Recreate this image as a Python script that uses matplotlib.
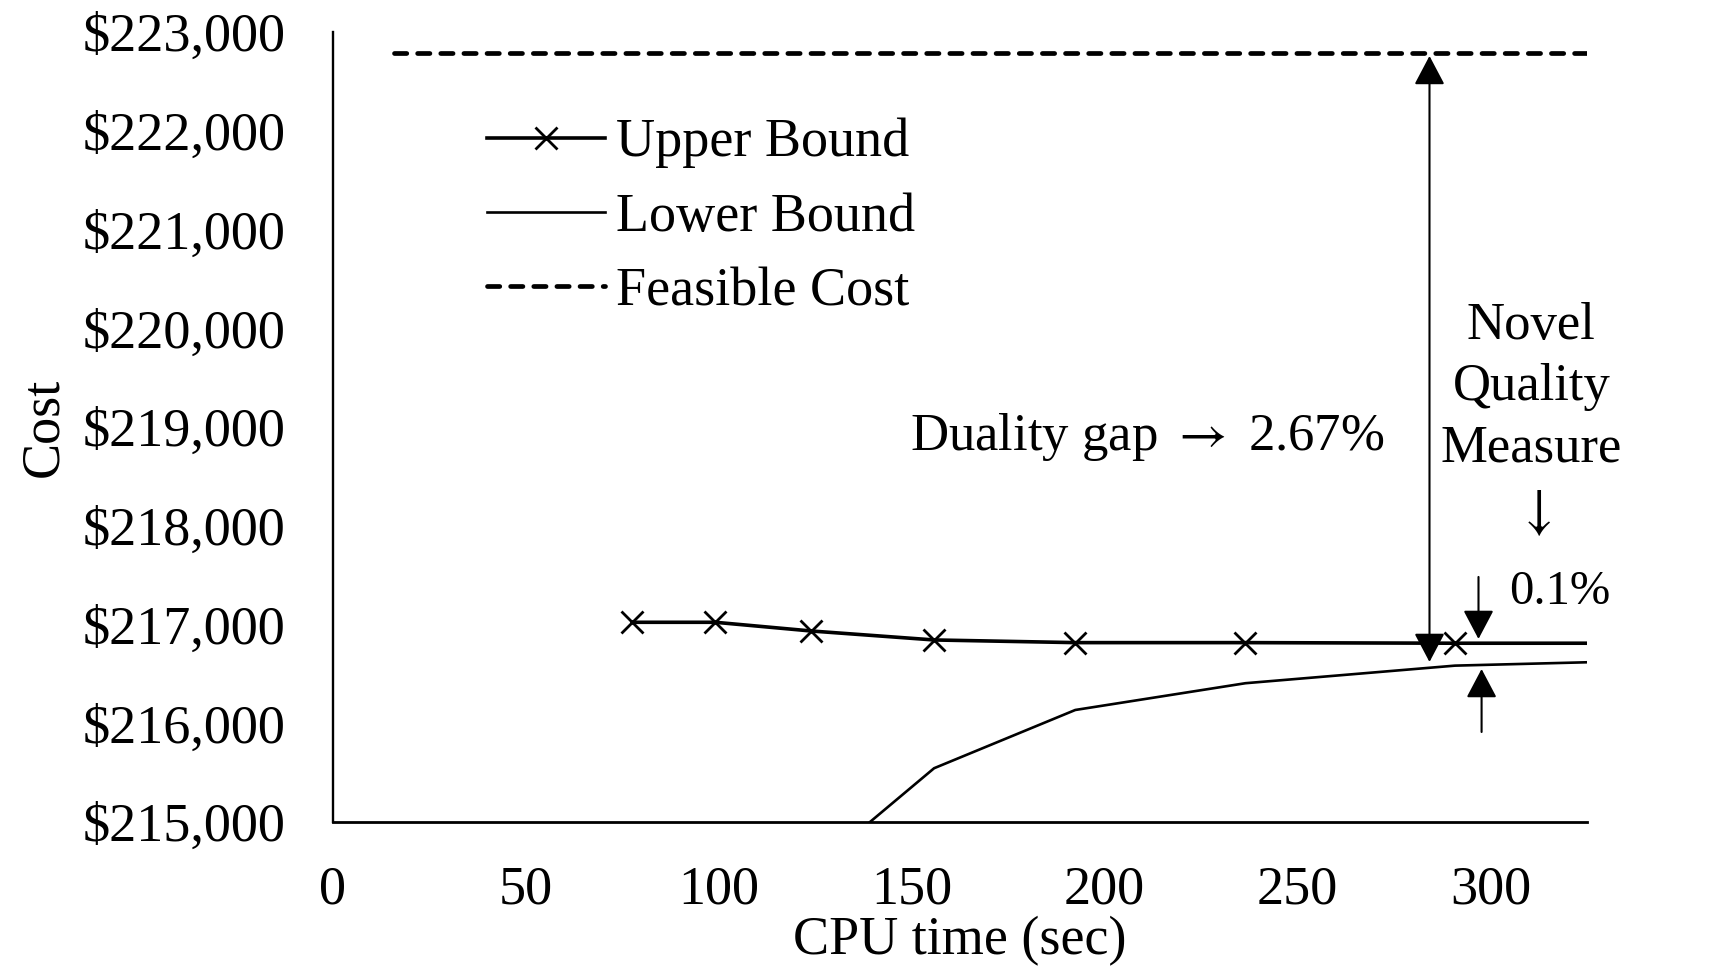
import matplotlib.pyplot as plt
import numpy as np
import matplotlib.ticker as mtick

# values
ub_time = [77.6, 99.1, 123.9, 155.8, 192.4, 236.5, 290.8, 325.0]
ub_cost = [217022, 217022, 216934, 216843, 216816, 216816, 216810, 216810]

lb_time = [139.2, 155.8, 192.4, 236.5, 290.8, 325.0]
lb_cost = [215000, 215544, 216134, 216405, 216583, 216617]

feas_time = [15.8, 325.0]
feas_cost = [222787, 222787]

x_ticks = [0, 50, 100, 150, 200, 250, 300]
y_ticks = [215000, 216000, 217000, 218000, 219000, 220000, 221000, 222000, 223000]


def main():
    plt.rcParams['font.family'] = ['Liberation Serif', 'DejaVu Serif']
    plt.rcParams['mathtext.fontset'] = 'stix'

    fig = plt.figure(figsize=(17.18, 9.74), dpi=100)
    ax = fig.add_axes([0.1938, 0.1561, 0.7299, 0.8111])

    ax.plot(ub_time, ub_cost, color='k', lw=2.6, marker='x', ms=16.5, mew=2.0,
            markevery=list(range(len(ub_time) - 1)), label='Upper Bound')
    ax.plot(lb_time, lb_cost, color='k', lw=1.9, label='Lower Bound')
    ax.plot(feas_time, feas_cost, color='k', lw=3.4, dashes=(2.6, 2.3),
            dash_capstyle='round', label='Feasible Cost')

    ax.set_xlim(0, 325)
    ax.set_ylim(215000, 223000)
    ax.set_xticks(x_ticks)
    ax.set_yticks(y_ticks)
    ax.yaxis.set_major_formatter(mtick.StrMethodFormatter('${x:,.0f}'))
    ax.tick_params(axis='both', length=0, labelsize=39)
    ax.tick_params(axis='y', pad=34)
    ax.tick_params(axis='x', pad=31)

    for s in ['top', 'right']:
        ax.spines[s].set_visible(False)
    ax.spines['left'].set_linewidth(1.7)
    ax.spines['bottom'].set_linewidth(2.0)

    ax.set_xlabel('CPU time (sec)', fontsize=39, labelpad=0)
    ax.set_ylabel('Cost', fontsize=39, labelpad=10)

    # legend
    leg = ax.legend(loc='upper left', bbox_to_anchor=(487 / 1718, 1 - 118 / 974),
                    bbox_transform=fig.transFigure, frameon=False, fontsize=39,
                    handlelength=2.17, handletextpad=0.22, labelspacing=0.44,
                    borderpad=0, borderaxespad=0)

    # annotations
    head = dict(color='k', lw=1.5, shrinkA=0, shrinkB=0, mutation_scale=1)
    ax.annotate('', xy=(284.2, 222757), xytext=(284.2, 216620),
                arrowprops=dict(arrowstyle='<|-|>,head_length=18,head_width=9.5', **head))
    ax.annotate('', xy=(296.9, 216853), xytext=(296.9, 217481),
                arrowprops=dict(arrowstyle='-|>,head_length=18,head_width=9.5', **head))
    ax.annotate('', xy=(297.7, 216549), xytext=(297.7, 215911),
                arrowprops=dict(arrowstyle='-|>,head_length=18,head_width=9.5', **head))

    ax.text(272.5, 218900, 'Duality gap ${\\rightarrow}$ 2.67%', fontsize=38,
            ha='right', va='center')
    ax.text(310.6, 219400, 'Novel\nQuality\nMeasure', fontsize=38,
            ha='center', va='center', linespacing=1.36)
    ax.text(311.2, 218129, '$\\downarrow$', fontsize=40, ha='center', va='center')
    ax.text(318.0, 217330, '0.1%', fontsize=35, ha='center', va='center')

    fig.savefig('out.png', dpi=100)


if __name__ == '__main__':
    main()
